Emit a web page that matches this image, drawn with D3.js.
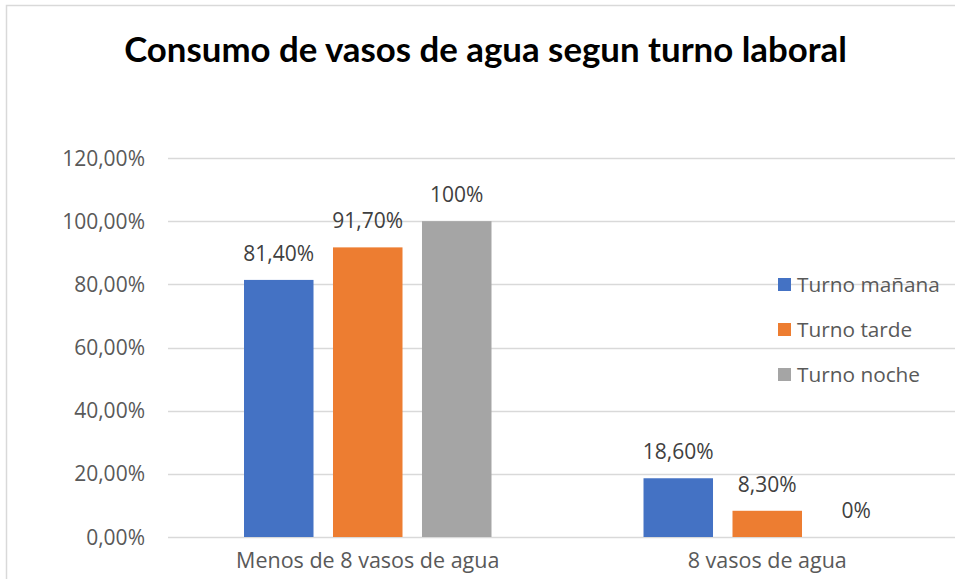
<!DOCTYPE html>
<html>
<head>
<meta charset="utf-8">
<script src="https://cdn.jsdelivr.net/npm/d3@7"></script>
<style>
  body { margin: 0; background: #fff; }
  text { font-family: "Open Sans", "Noto Sans", sans-serif; }
</style>
</head>
<body>
<div id="chart"></div>
<script>
// data
var categories = ["Menos de 8 vasos de agua", "8 vasos de agua"];
var seriesNames = ["Turno mañana", "Turno tarde", "Turno noche"];
var manana = [0.814, 0.186];
var tarde = [0.917, 0.083];
var noche = [1.00, 0.00];
var labelsManana = ["81,40%", "18,60%"];
var labelsTarde = ["91,70%", "8,30%"];
var labelsNoche = ["100%", "0%"];
var yTicks = [0, 0.2, 0.4, 0.6, 0.8, 1.0, 1.2];
var colors = ["#4472C4", "#ED7D31", "#A5A5A5"];

var W = 955, H = 579;
var plotLeft = 168, plotRight = 967, plotTop = 158, plotBottom = 537;

var svg = d3.select("#chart").append("svg")
    .attr("width", W)
    .attr("height", H);

svg.append("rect")
    .attr("x", 6.5).attr("y", 5.5)
    .attr("width", W + 10).attr("height", H + 10)
    .attr("fill", "#fff")
    .attr("stroke", "#D9D9D9")
    .attr("stroke-width", 1.5);

var y = d3.scaleLinear().domain([0, 1.2]).range([plotBottom, plotTop]);
var x0 = d3.scaleBand().domain(categories).range([plotLeft, plotRight]);
var x1 = d3.scaleBand().domain(seriesNames).range([0, x0.bandwidth()])
    .paddingInner(0.219).paddingOuter(0.854);

// gridlines
svg.append("g").selectAll("line")
    .data(yTicks)
    .enter().append("line")
    .attr("x1", plotLeft).attr("x2", plotRight)
    .attr("y1", function(d){ return Math.round(y(d)) + 0.5; })
    .attr("y2", function(d){ return Math.round(y(d)) + 0.5; })
    .attr("stroke", "#D9D9D9")
    .attr("stroke-width", 1.5);

// y tick labels
var fmt = function(d){ return d3.format(".2f")(d * 100).replace(".", ",") + "%"; };
svg.append("g").selectAll("text")
    .data(yTicks)
    .enter().append("text")
    .attr("x", 145)
    .attr("y", function(d){ return y(d); })
    .attr("dy", "0.36em")
    .attr("text-anchor", "end")
    .attr("font-size", 21)
    .attr("fill", "#595959")
    .text(fmt);

// bars
var rows = categories.map(function(c, i){
    return {
        cat: c,
        vals: [
            {s: seriesNames[0], v: manana[i], lab: labelsManana[i], col: colors[0]},
            {s: seriesNames[1], v: tarde[i], lab: labelsTarde[i], col: colors[1]},
            {s: seriesNames[2], v: noche[i], lab: labelsNoche[i], col: colors[2]}
        ]
    };
});

var groups = svg.append("g").selectAll("g")
    .data(rows)
    .enter().append("g")
    .attr("transform", function(d){ return "translate(" + x0(d.cat) + ",0)"; });

groups.selectAll("rect")
    .data(function(d){ return d.vals; })
    .enter().append("rect")
    .attr("x", function(d){ return x1(d.s); })
    .attr("y", function(d){ return y(d.v); })
    .attr("width", x1.bandwidth())
    .attr("height", function(d){ return y(0) - y(d.v); })
    .attr("fill", function(d){ return d.col; });

groups.selectAll("text")
    .data(function(d){ return d.vals; })
    .enter().append("text")
    .attr("x", function(d){ return x1(d.s) + x1.bandwidth() / 2; })
    .attr("y", function(d){ return y(d.v) - 19; })
    .attr("text-anchor", "middle")
    .attr("font-size", 21)
    .attr("fill", "#404040")
    .text(function(d){ return d.lab; });

// category labels
svg.append("g").selectAll("text")
    .data(categories)
    .enter().append("text")
    .attr("x", function(d){ return x0(d) + x0.bandwidth() / 2; })
    .attr("y", 568)
    .attr("text-anchor", "middle")
    .attr("font-size", 21.5)
    .attr("fill", "#595959")
    .text(function(d){ return d; });

// legend
var legend = svg.append("g").selectAll("g")
    .data(seriesNames)
    .enter().append("g")
    .attr("transform", function(d, i){ return "translate(778," + (284.5 + i * 45) + ")"; });
legend.append("rect")
    .attr("x", 0).attr("y", -6.5)
    .attr("width", 13).attr("height", 13)
    .attr("fill", function(d, i){ return colors[i]; });
legend.append("text")
    .attr("x", 19).attr("y", 0)
    .attr("dy", "0.36em")
    .attr("font-size", 20.8)
    .attr("fill", "#595959")
    .text(function(d){ return d; });

// title, sized to the reference width
var title = svg.append("text")
    .attr("x", 485.5)
    .attr("y", 62)
    .attr("text-anchor", "middle")
    .attr("font-size", 30)
    .attr("font-weight", "bold")
    .attr("fill", "#000")
    .style("font-family", "Lato, 'Open Sans', sans-serif")
    .text("Consumo de vasos de agua segun turno laboral");
var tw = title.node().getComputedTextLength();
title.attr("font-size", 30 * 723 / tw);
</script>
</body>
</html>
